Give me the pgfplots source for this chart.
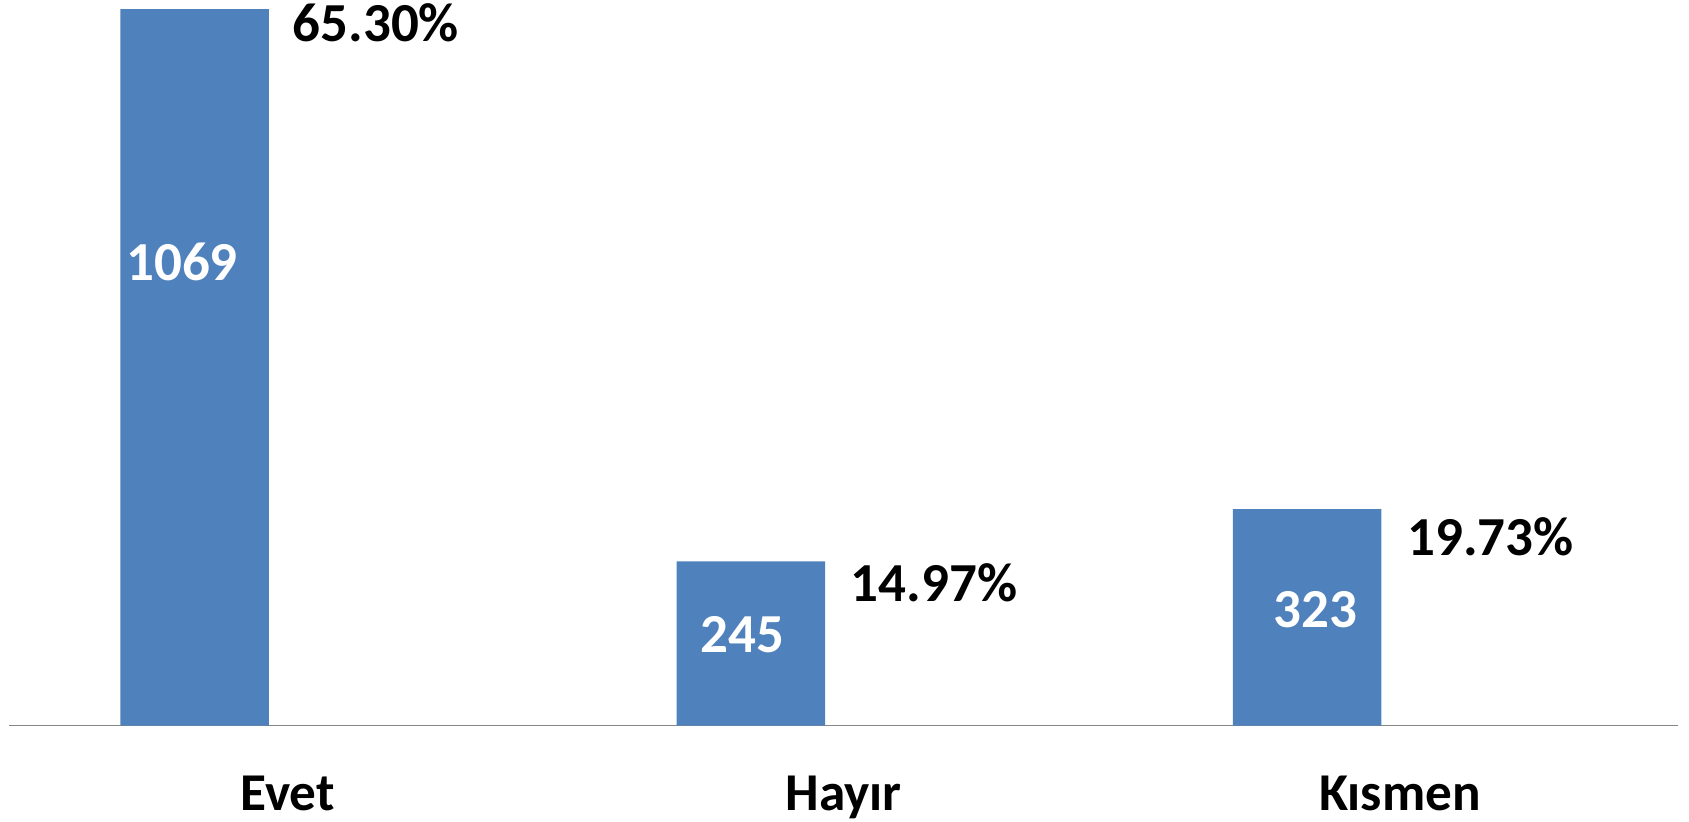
\documentclass[border=0pt]{standalone}
\usepackage{pgfplots}
\pgfplotsset{compat=1.18}
\usepackage{fontspec}
\setmainfont{Carlito}
\definecolor{barblue}{HTML}{4F81BD}
\definecolor{axisgrey}{HTML}{868686}
\begin{document}
\begin{tikzpicture}
\useasboundingbox (0,0) rectangle (844.5bp,411bp);
\begin{axis}[
  at={(4.65bp,48.15bp)}, anchor=south west,
  scale only axis, width=834.4bp, height=362.85bp,
  xmin=-0.5, xmax=2.5, ymin=0, ymax=1082.5,
  axis x line=bottom, axis y line=none,
  x axis line style={draw=axisgrey, line width=0.65bp, -},
  xtick={0,1,2}, xticklabels={Evet,Hayır,Kısmen},
  major tick length=0pt,
  xticklabel style={anchor=base, yshift=-42.15bp, inner sep=0pt, font=\fontsize{26.6bp}{31bp}\selectfont\bfseries},
  clip=false,
]
\addplot[ybar, bar width=74.25bp, bar shift=-46.4bp, fill=barblue, draw=none]
  coordinates {(0,1069) (1,245) (2,323)};
\begin{scope}[every node/.style={anchor=base, inner sep=0pt, font=\fontsize{27.5bp}{33bp}\selectfont\bfseries}]
\node[text=white] at (axis cs:-0.1895,664.8) {1069};
\node[text=white] at (axis cs:0.818,108.9) {245};
\node[text=white] at (axis cs:1.8475,146.8) {323};
\node[text=black] at (axis cs:0.159,1020.3) {65.30\%};
\node[text=black] at (axis cs:1.1625,185.9) {14.97\%};
\node[text=black] at (axis cs:2.1625,254.6) {19.73\%};
\end{scope}
\end{axis}
\end{tikzpicture}
\end{document}
